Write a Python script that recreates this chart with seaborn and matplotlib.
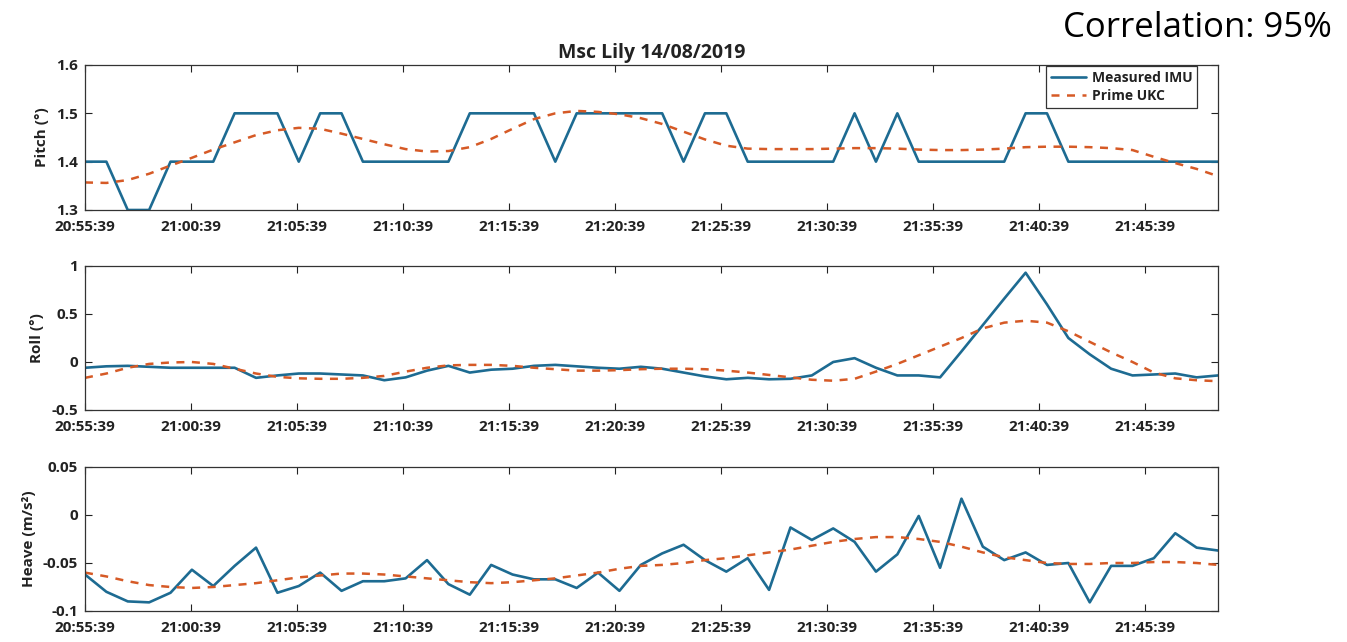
import numpy as np
import pandas as pd
import matplotlib
matplotlib.use("Agg")
import matplotlib.pyplot as plt
import matplotlib.dates as mdates
import seaborn as sns

# ---------------- data ----------------
start_time = "2019-08-14 20:55:39"
end_time = "2019-08-14 21:49:05"
n_samples = 54

pitch_imu = [1.4, 1.4, 1.3, 1.3, 1.4, 1.4, 1.4, 1.5, 1.5, 1.5,
             1.4, 1.5, 1.5, 1.4, 1.4, 1.4, 1.4, 1.4, 1.5, 1.5,
             1.5, 1.5, 1.4, 1.5, 1.5, 1.5, 1.5, 1.5, 1.4, 1.5,
             1.5, 1.4, 1.4, 1.4, 1.4, 1.4, 1.5, 1.4, 1.5, 1.4,
             1.4, 1.4, 1.4, 1.4, 1.5, 1.5, 1.4, 1.4, 1.4, 1.4,
             1.4, 1.4, 1.4, 1.4]
pitch_ukc = [1.357, 1.356, 1.362, 1.375, 1.392, 1.408, 1.425, 1.440, 1.455, 1.465,
             1.470, 1.468, 1.458, 1.447, 1.436, 1.426, 1.421, 1.422, 1.430, 1.447,
             1.468, 1.488, 1.500, 1.505, 1.503, 1.498, 1.490, 1.478, 1.462, 1.446,
             1.433, 1.427, 1.426, 1.426, 1.426, 1.427, 1.428, 1.428, 1.427, 1.425,
             1.424, 1.424, 1.425, 1.427, 1.430, 1.431, 1.431, 1.430, 1.428, 1.424,
             1.410, 1.397, 1.385, 1.370]

roll_imu = [-0.06, -0.045, -0.04, -0.05, -0.06, -0.06, -0.06, -0.06, -0.165, -0.14,
            -0.12, -0.12, -0.13, -0.14, -0.19, -0.16, -0.09, -0.04, -0.11, -0.08,
            -0.07, -0.04, -0.03, -0.045, -0.06, -0.07, -0.05, -0.07, -0.11, -0.15,
            -0.18, -0.165, -0.18, -0.175, -0.14, 0.0, 0.04, -0.06, -0.14, -0.14,
            -0.16, 0.11, 0.385, 0.66, 0.93, 0.60, 0.25, 0.08, -0.07, -0.14,
            -0.13, -0.12, -0.16, -0.14]
roll_ukc = [-0.165, -0.12, -0.06, -0.02, -0.005, 0.0, -0.02, -0.07, -0.12, -0.155,
            -0.17, -0.175, -0.175, -0.165, -0.145, -0.10, -0.06, -0.035, -0.03, -0.03,
            -0.04, -0.06, -0.075, -0.09, -0.09, -0.085, -0.075, -0.07, -0.07, -0.075,
            -0.09, -0.11, -0.135, -0.16, -0.185, -0.195, -0.175, -0.10, -0.02, 0.07,
            0.16, 0.25, 0.35, 0.41, 0.43, 0.41, 0.32, 0.21, 0.10, 0.0,
            -0.11, -0.17, -0.19, -0.20]

heave_imu = [-0.062, -0.080, -0.090, -0.091, -0.081, -0.057, -0.074, -0.053, -0.034, -0.081,
             -0.074, -0.060, -0.079, -0.069, -0.069, -0.066, -0.047, -0.072, -0.083, -0.052,
             -0.062, -0.067, -0.067, -0.076, -0.060, -0.079, -0.052, -0.040, -0.031, -0.047,
             -0.059, -0.045, -0.078, -0.013, -0.026, -0.014, -0.028, -0.059, -0.041, -0.001,
             -0.055, 0.017, -0.033, -0.047, -0.039, -0.052, -0.050, -0.091, -0.053, -0.053,
             -0.045, -0.019, -0.034, -0.037]
heave_ukc = [-0.060, -0.064, -0.069, -0.073, -0.075, -0.076, -0.075, -0.073, -0.071, -0.068,
             -0.065, -0.063, -0.061, -0.061, -0.062, -0.064, -0.066, -0.068, -0.070, -0.071,
             -0.070, -0.068, -0.066, -0.063, -0.060, -0.056, -0.053, -0.052, -0.050, -0.047,
             -0.045, -0.042, -0.039, -0.036, -0.032, -0.028, -0.025, -0.023, -0.023, -0.025,
             -0.028, -0.033, -0.039, -0.044, -0.047, -0.050, -0.051, -0.051, -0.050, -0.050,
             -0.049, -0.049, -0.050, -0.052]

panel_labels = ["Pitch (°)", "Roll (°)", "Heave (m/s²)"]
panel_ylims = [(1.3, 1.6), (-0.5, 1.0), (-0.1, 0.05)]
panel_yticks = [[1.3, 1.4, 1.5, 1.6], [-0.5, 0, 0.5, 1], [-0.1, -0.05, 0, 0.05]]
panel_yticklabels = [["1.3", "1.4", "1.5", "1.6"], ["-0.5", "0", "0.5", "1"],
                     ["-0.1", "-0.05", "0", "0.05"]]
series_names = ["Measured IMU", "Prime UKC"]
title = "Msc Lily 14/08/2019"
note = "Correlation: 95%"
xtick_start = "2019-08-14 20:55:39"
xtick_end = "2019-08-14 21:45:39"

# ---------------- style ----------------
BLUE = "#1d6b92"
ORANGE = "#d65a26"
TXT = "#222222"

sns.set_theme(style="ticks")
plt.rcParams["font.family"] = ["Open Sans", "DejaVu Sans"]
plt.rcParams["axes.unicode_minus"] = False

times = pd.date_range(start_time, end_time, periods=n_samples)
xticks = pd.date_range(xtick_start, xtick_end, freq="5min")

fig = plt.figure(figsize=(13.47, 6.42), dpi=100)
W, H = 1347.0, 642.0
left, right = 85, 1218
boxes = [(65, 210), (266, 410), (467, 611)]

data_sets = [(pitch_imu, pitch_ukc), (roll_imu, roll_ukc), (heave_imu, heave_ukc)]

for i, ((top, bot), (imu, ukc)) in enumerate(zip(boxes, data_sets)):
    ax = fig.add_axes([left / W, 1 - bot / H, (right - left) / W, (bot - top) / H])
    df = pd.DataFrame({"time": times, "imu": imu, "ukc": ukc})
    sns.lineplot(data=df, x="time", y="imu", ax=ax, color=BLUE, linewidth=1.9,
                 label=series_names[0] if i == 0 else None, legend=(i == 0))
    sns.lineplot(data=df, x="time", y="ukc", ax=ax, color=ORANGE, linewidth=1.8,
                 linestyle=(0, (3.2, 3.0)),
                 label=series_names[1] if i == 0 else None, legend=(i == 0))
    ax.set_xlim(times[0], times[-1])
    ax.set_ylim(*panel_ylims[i])
    ax.set_yticks(panel_yticks[i])
    ax.set_yticklabels(panel_yticklabels[i])
    ax.set_xticks(xticks)
    ax.xaxis.set_major_formatter(mdates.DateFormatter("%H:%M:%S"))
    ax.set_xlabel("")
    ax.set_ylabel(panel_labels[i], fontsize=11, fontweight="bold", color=TXT, labelpad=5)
    ax.tick_params(direction="in", top=True, right=True, length=5, width=0.8,
                   labelsize=11, colors=TXT)
    ax.tick_params(axis="x", pad=7)
    ax.tick_params(axis="y", pad=5)
    for lab in ax.get_xticklabels() + ax.get_yticklabels():
        lab.set_fontweight("bold")
    for sp in ax.spines.values():
        sp.set_color("#333333")
        sp.set_linewidth(0.9)
        sp.set_visible(True)
    if i == 0:
        ax.set_title(title, fontsize=14, fontweight="bold", color=TXT, pad=5)
        leg = ax.legend(loc="upper right", bbox_to_anchor=(0.9815, 0.99),
                        borderaxespad=0, fancybox=False, framealpha=1,
                        edgecolor="#333333", fontsize=10, handlelength=2.5,
                        borderpad=0.35, labelspacing=0.25, handletextpad=0.4)
        leg.get_frame().set_linewidth(0.9)
        for t in leg.get_texts():
            t.set_fontweight("bold")
            t.set_color(TXT)

fig.text(1332 / W, 1 - 28 / H, note, ha="right", va="center", fontsize=25, color="black")

fig.savefig("out.png", dpi=100)
